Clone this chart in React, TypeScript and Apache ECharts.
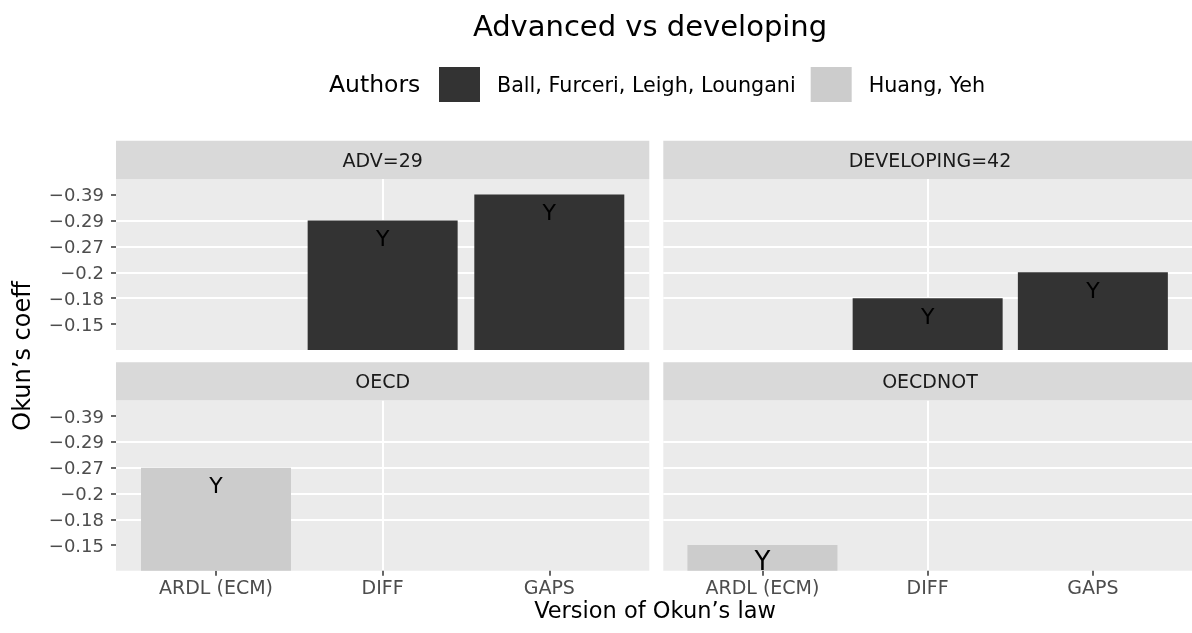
import React, { useEffect, useRef } from "react";
import * as echarts from "echarts";

// ---------- data ----------
const chartTitle = "Advanced vs developing";
const legendTitle = "Authors";
const xTitle = "Version of Okun’s law";
const yTitle = "Okun’s coeff";
const authors = ["Ball, Furceri, Leigh, Loungani", "Huang, Yeh"];
const versions = ["ARDL (ECM)", "DIFF", "GAPS"];
const coefLevels = ["−0.15", "−0.18", "−0.2", "−0.27", "−0.29", "−0.39"];
const panelNames = ["ADV=29", "DEVELOPING=42", "OECD", "OECDNOT"];
const panelAuthor = [0, 0, 1, 1];
const advCoef = [null, "−0.29", "−0.39"];
const developingCoef = [null, "−0.18", "−0.2"];
const oecdCoef = ["−0.27", null, null];
const oecdnotCoef = ["−0.15", null, null];
const advSignif = [null, "Y", "Y"];
const developingSignif = [null, "Y", "Y"];
const oecdSignif = ["Y", null, null];
const oecdnotSignif = ["Y", null, null];

// ---------- style / layout ----------
const authorColors = ["#333333", "#CCCCCC"];
const labelSizes = [22, 22, 22, 26];
const labelLineH = [22, 22, 22, 26];
const labelDist = [7, 7, 7, 3];
const FONT = "DejaVu Sans";
const PANEL_W = 533.3;
const colLeft = [116, 663.3];
const stripTop = [140.7, 362.3];
const STRIP_H = 38.3;
const panelTop = [179, 400.7];
const panelH = [171, 170.1];

const panelCoefs = [advCoef, developingCoef, oecdCoef, oecdnotCoef];
const panelSignif = [advSignif, developingSignif, oecdSignif, oecdnotSignif];

function buildOption() {
  const grids = panelNames.map((_, i) => {
    const c = i % 2;
    const r = Math.floor(i / 2);
    return {
      left: colLeft[c],
      top: panelTop[r],
      width: PANEL_W,
      height: panelH[r],
      show: true,
      backgroundColor: "#EBEBEB",
      borderWidth: 0,
      containLabel: false,
    };
  });

  const xAxes = panelNames.map((_, i) => ({
    type: "value",
    gridIndex: i,
    min: 0.4,
    max: 3.6,
    axisLine: { show: false },
    axisTick: {
      show: i >= 2,
      length: 5,
      customValues: [1, 2, 3],
      lineStyle: { color: "#333333", width: 1.5 },
    },
    axisLabel: {
      show: i >= 2,
      customValues: [1, 2, 3],
      formatter: (v: number) => versions[Math.round(v) - 1] ?? "",
      color: "#4D4D4D",
      fontSize: 19,
      lineHeight: 16,
      fontFamily: FONT,
      margin: 8,
    },
    splitLine: {
      show: true,
      showMinLine: false,
      showMaxLine: false,
      lineStyle: { color: "#FFFFFF", width: 2 },
    },
  }));

  const ticks = coefLevels.map((_, k) => k + 1);
  const yAxes = panelNames.map((_, i) => ({
    type: "value",
    gridIndex: i,
    min: 0,
    max: 6.6,
    axisLine: { show: false },
    axisTick: {
      show: i % 2 === 0,
      length: 5,
      customValues: ticks,
      lineStyle: { color: "#333333", width: 1.5 },
    },
    axisLabel: {
      show: i % 2 === 0,
      customValues: ticks,
      formatter: (v: number) => coefLevels[Math.round(v) - 1] ?? "",
      color: "#4D4D4D",
      fontSize: 18,
      fontFamily: FONT,
      margin: 12,
    },
    splitLine: {
      show: true,
      showMinLine: false,
      showMaxLine: false,
      lineStyle: { color: "#FFFFFF", width: 2 },
    },
  }));

  const series = panelNames.map((_, i) => ({
    type: "bar",
    name: authors[panelAuthor[i]],
    xAxisIndex: i,
    yAxisIndex: i,
    barWidth: (PANEL_W / 3.2) * 0.9,
    clip: false,
    itemStyle: { color: authorColors[panelAuthor[i]] },
    label: {
      show: true,
      position: "insideTop",
      distance: labelDist[i],
      color: "#000000",
      fontSize: labelSizes[i],
      lineHeight: labelLineH[i],
      fontFamily: FONT,
      formatter: (p: any) => p.data.sig,
    },
    data: panelCoefs[i]
      .map((c, j) =>
        c == null
          ? null
          : { value: [j + 1, coefLevels.indexOf(c) + 1], sig: panelSignif[i][j] }
      )
      .filter((d) => d != null),
  }));

  const graphics: any[] = [];
  panelNames.forEach((name, i) => {
    const c = i % 2;
    const r = Math.floor(i / 2);
    graphics.push({
      type: "rect",
      shape: { x: colLeft[c], y: stripTop[r], width: PANEL_W, height: STRIP_H },
      style: { fill: "#D9D9D9" },
      silent: true,
    });
    graphics.push({
      type: "text",
      x: colLeft[c] + PANEL_W / 2,
      y: stripTop[r] + STRIP_H / 2,
      style: {
        text: name,
        fill: "#1A1A1A",
        fontSize: 19,
        fontFamily: FONT,
        align: "center",
        verticalAlign: "middle",
      },
      silent: true,
    });
  });
  graphics.push({
    type: "text",
    x: 650,
    y: 25.5,
    style: {
      text: chartTitle,
      fill: "#000000",
      fontSize: 29,
      fontFamily: FONT,
      align: "center",
      verticalAlign: "middle",
    },
  });
  graphics.push({
    type: "text",
    x: 329,
    y: 84,
    style: {
      text: legendTitle,
      fill: "#000000",
      fontSize: 23.5,
      fontFamily: FONT,
      align: "left",
      verticalAlign: "middle",
    },
  });
  graphics.push({
    type: "text",
    x: 655,
    y: 610,
    style: {
      text: xTitle,
      fill: "#000000",
      fontSize: 22.5,
      fontFamily: FONT,
      align: "center",
      verticalAlign: "middle",
    },
  });
  graphics.push({
    type: "text",
    x: 22,
    y: 356,
    rotation: Math.PI / 2,
    style: {
      text: yTitle,
      fill: "#000000",
      fontSize: 24,
      fontFamily: FONT,
      align: "center",
      verticalAlign: "middle",
    },
  });

  return {
    animation: false,
    textStyle: { fontFamily: FONT },
    legend: {
      data: authors,
      left: 439,
      top: 67,
      padding: 0,
      itemWidth: 41,
      itemHeight: 35,
      itemGap: 15,
      icon: "rect",
      selectedMode: false,
      textStyle: {
        color: "#000000",
        fontSize: 20.7,
        fontFamily: FONT,
        padding: [0, 0, 0, 12],
      },
    },
    grid: grids,
    xAxis: xAxes,
    yAxis: yAxes,
    series,
    graphic: graphics,
  };
}

export default function App() {
  const ref = useRef<HTMLDivElement>(null);
  useEffect(() => {
    const chart = echarts.init(ref.current!, null, { renderer: "svg" });
    chart.setOption(buildOption() as any);
    return () => chart.dispose();
  }, []);
  return (
    <div
      ref={ref}
      style={{ position: "fixed", left: 0, top: 0, width: 1192, height: 633 }}
    />
  );
}
